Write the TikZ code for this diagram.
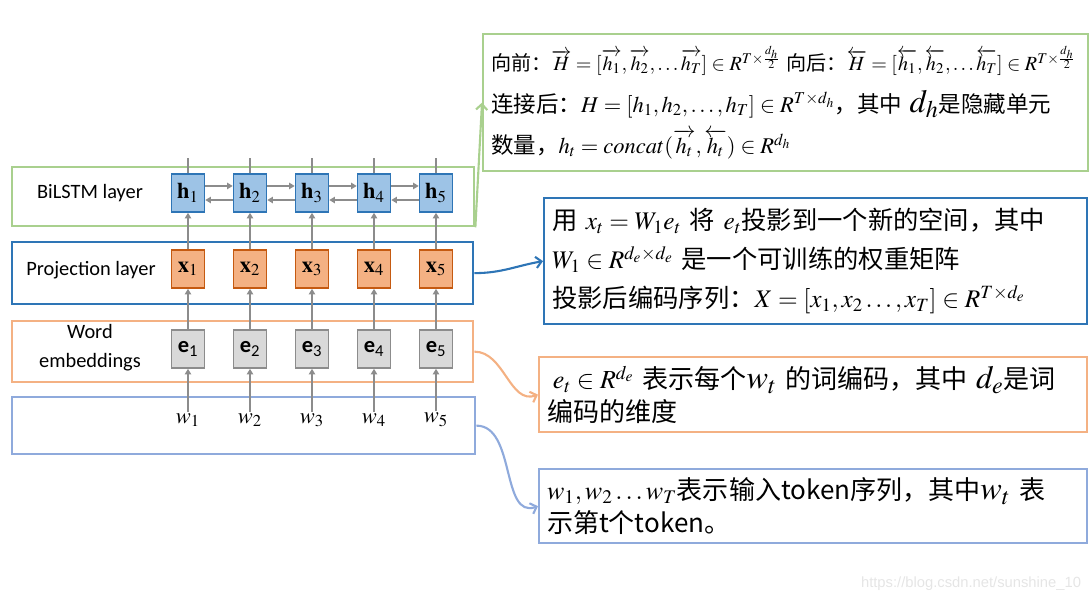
\documentclass[tikz,border=0pt]{standalone}
\usepackage{amsmath,amssymb}
\usepackage{mathptmx}
\usepackage{graphicx}
\usepackage{fontspec}
\newfontfamily\cjk{Noto Sans CJK SC}
\newfontfamily\lbl{Carlito}
\newfontfamily\wmfont{Liberation Sans}
\usetikzlibrary{positioning,arrows.meta,calc}

\definecolor{bgreen}{HTML}{A9D08E}
\definecolor{pblue}{HTML}{2E75B6}
\definecolor{eorange}{HTML}{F4B183}
\definecolor{wblue}{HTML}{8FAADC}
\definecolor{hfill}{HTML}{9DC3E6}
\definecolor{xdraw}{HTML}{C55A11}
\definecolor{efill}{HTML}{D9D9D9}
\definecolor{edraw}{HTML}{8C8C8C}

% shrink a line only when it is too wide
\newsavebox\fitbox
\newcommand\fitline[2]{\sbox\fitbox{#2}\ifdim\wd\fitbox>#1\resizebox{#1}{!}{\usebox\fitbox}\else\usebox\fitbox\fi}
% a larger symbol inside the notes
\newcommand\bigsym[1]{{\fontsize{23}{24}\selectfont$#1$}}

\begin{document}
\begin{tikzpicture}[
  x=0.025cm,y=-0.025cm,
  layerbox/.style={rectangle,draw=#1,line width=1.6pt,anchor=north west,inner sep=0pt},
  notebox/.style={rectangle,draw=#1,line width=1.6pt,anchor=north west,align=left,inner xsep=0.2cm,inner ysep=0pt},
  layerlab/.style={font=\lbl\fontsize{14.5}{20.5}\selectfont,align=center},
  cell/.style={rectangle,line width=1.1pt,minimum width=0.825cm,minimum height=0.95cm,inner sep=0pt,font=\fontsize{16}{18}\selectfont},
  hcell/.style={cell,draw=pblue,fill=hfill},
  xcell/.style={cell,draw=xdraw,fill=eorange},
  ecell/.style={cell,draw=edraw,fill=efill,font=\lbl\fontsize{16}{18}\selectfont},
  wlab/.style={inner sep=1pt,font=\fontsize{16}{18}\selectfont},
  flow/.style={-{Triangle[length=4pt,width=4.5pt]},line width=1.1pt,gray!90},
  link/.style={-{Straight Barb[length=4pt,width=8pt]},line width=1.5pt,#1},
]
\useasboundingbox (0,0) rectangle (1092,604);

% === left: the four layers ===
\node[layerbox=bgreen,minimum width=11.55cm,minimum height=1.475cm] (bilstm) at (11,166) {};
\node[layerbox=pblue,minimum width=11.525cm,minimum height=1.55cm] (proj) at (11,241) {};
\node[layerbox=eorange,minimum width=11.525cm,minimum height=1.525cm] (emb) at (11,320) {};
\node[layerbox=wblue,minimum width=11.575cm,minimum height=1.425cm] (inp) at (11,396) {};

\node[layerlab] (bilstmlab) at (90,193) {BiLSTM layer};
\node[layerlab] (projlab) at (91,270) {Projection layer};
\node[layerlab] (emblab) at (90,348) {Word\\embeddings};

\coordinate (top) at (0,158);

% hidden states
\node[hcell] (h1) at (188,193) {$\mathbf{h}_1$};
\node[hcell] (h2) at (250,193) {$\mathbf{h}_2$};
\node[hcell] (h3) at (312,193) {$\mathbf{h}_3$};
\node[hcell] (h4) at (374,193) {$\mathbf{h}_4$};
\node[hcell] (h5) at (436,193) {$\mathbf{h}_5$};

% projections
\node[xcell] (x1) at (188,269) {$\mathbf{x}_1$};
\node[xcell] (x2) at (250,269) {$\mathbf{x}_2$};
\node[xcell] (x3) at (312,269) {$\mathbf{x}_3$};
\node[xcell] (x4) at (374,269) {$\mathbf{x}_4$};
\node[xcell] (x5) at (436,269) {$\mathbf{x}_5$};

% embeddings
\node[ecell] (e1) at (188,349) {\textbf{e}\textsubscript{1}};
\node[ecell] (e2) at (250,349) {\textbf{e}\textsubscript{2}};
\node[ecell] (e3) at (312,349) {\textbf{e}\textsubscript{3}};
\node[ecell] (e4) at (374,349) {\textbf{e}\textsubscript{4}};
\node[ecell] (e5) at (436,349) {\textbf{e}\textsubscript{5}};

% words
\node[wlab] (w1) at (188,420) {$w_1$};
\node[wlab] (w2) at (250,420) {$w_2$};
\node[wlab] (w3) at (312,420) {$w_3$};
\node[wlab] (w4) at (374,420) {$w_4$};
\node[wlab] (w5) at (436,420) {$w_5$};

\draw[flow] (w1) -- (e1); \draw[flow] (w2) -- (e2); \draw[flow] (w3) -- (e3);
\draw[flow] (w4) -- (e4); \draw[flow] (w5) -- (e5);
\draw[flow] (e1) -- (x1); \draw[flow] (e2) -- (x2); \draw[flow] (e3) -- (x3);
\draw[flow] (e4) -- (x4); \draw[flow] (e5) -- (x5);
\draw[flow] (x1) -- (h1); \draw[flow] (x2) -- (h2); \draw[flow] (x3) -- (h3);
\draw[flow] (x4) -- (h4); \draw[flow] (x5) -- (h5);
\draw[line width=1.1pt,gray!90] (h1.north) -- (h1 |- top) (h2.north) -- (h2 |- top)
  (h3.north) -- (h3 |- top) (h4.north) -- (h4 |- top) (h5.north) -- (h5 |- top);

% forward / backward
\draw[flow] ([yshift=5pt]h1.east) -- ([yshift=5pt]h2.west);
\draw[flow] ([yshift=5pt]h2.east) -- ([yshift=5pt]h3.west);
\draw[flow] ([yshift=5pt]h3.east) -- ([yshift=5pt]h4.west);
\draw[flow] ([yshift=5pt]h4.east) -- ([yshift=5pt]h5.west);
\draw[flow] ([yshift=-5pt]h2.west) -- ([yshift=-5pt]h1.east);
\draw[flow] ([yshift=-5pt]h3.west) -- ([yshift=-5pt]h2.east);
\draw[flow] ([yshift=-5pt]h4.west) -- ([yshift=-5pt]h3.east);
\draw[flow] ([yshift=-5pt]h5.west) -- ([yshift=-5pt]h4.east);

% === right: notes ===
\node[notebox=bgreen,minimum width=15.125cm,minimum height=3.425cm,text width=14.725cm,
  font=\cjk\fontsize{16}{29.4}\selectfont] (hnote) at (482,33)
  {\fitline{14.6cm}{\thickmuskip=4mu\medmuskip=2mu
     向前：$\overrightarrow{H}=[\overrightarrow{h_1},\overrightarrow{h_2},\ldots\overrightarrow{h_T}]\in R^{T\times\frac{d_h}{2}}$
     向后：$\overleftarrow{H}=[\overleftarrow{h_1},\overleftarrow{h_2},\ldots\overleftarrow{h_T}]\in R^{T\times\frac{d_h}{2}}$}\\
   连接后：$H=[h_1,h_2,\ldots,h_T]\in R^{T\times d_h}$，其中 \bigsym{d_h}是隐藏单元\\
   数量，$h_t=concat(\overrightarrow{h_t},\overleftarrow{h_t})\in R^{d_h}$};

\node[notebox=pblue,minimum width=13.575cm,minimum height=3.15cm,text width=13.175cm,
  font=\cjk\fontsize{18}{27.6}\selectfont] (xnote) at (543,197)
  {用 $x_t=W_1e_t$ 将 $e_t$投影到一个新的空间，其中\\
   $W_1\in R^{d_e\times d_e}$ 是一个可训练的权重矩阵\\
   投影后编码序列：$X=[x_1,x_2\ldots,x_T]\in R^{T\times d_e}$};

\node[notebox=eorange,minimum width=13.7cm,minimum height=1.875cm,text width=13.3cm,
  font=\cjk\fontsize{18.5}{23.4}\selectfont] (enote) at (538,356)
  {\hspace{4pt}$e_t\in R^{d_e}$ 表示每个\bigsym{w_t} 的词编码，其中 \bigsym{d_e}是词\\
   编码的维度};

\node[notebox=wblue,minimum width=13.7cm,minimum height=1.85cm,text width=13.3cm,
  font=\cjk\fontsize{18.5}{24}\selectfont] (wnote) at (538,468)
  {$w_1,w_2\ldots w_T$表示输入token序列，其中\bigsym{w_t} 表\\
   示第t个token。};

\draw[link=bgreen] (bilstm.south east) -- (hnote.west);
\draw[link=pblue] (proj.east) to[out=0,in=190] (xnote.west);
\draw[link=eorange] (emb.east) to[out=0,in=200] (enote.west);
\draw[link=wblue] (inp.east) to[out=0,in=200] (wnote.west);

\node[font=\wmfont\fontsize{10.5}{12}\selectfont,text=black!10,anchor=east] (wm) at (1086,584) {https://blog.csdn.net/sunshine\_10};
\end{tikzpicture}
\end{document}
